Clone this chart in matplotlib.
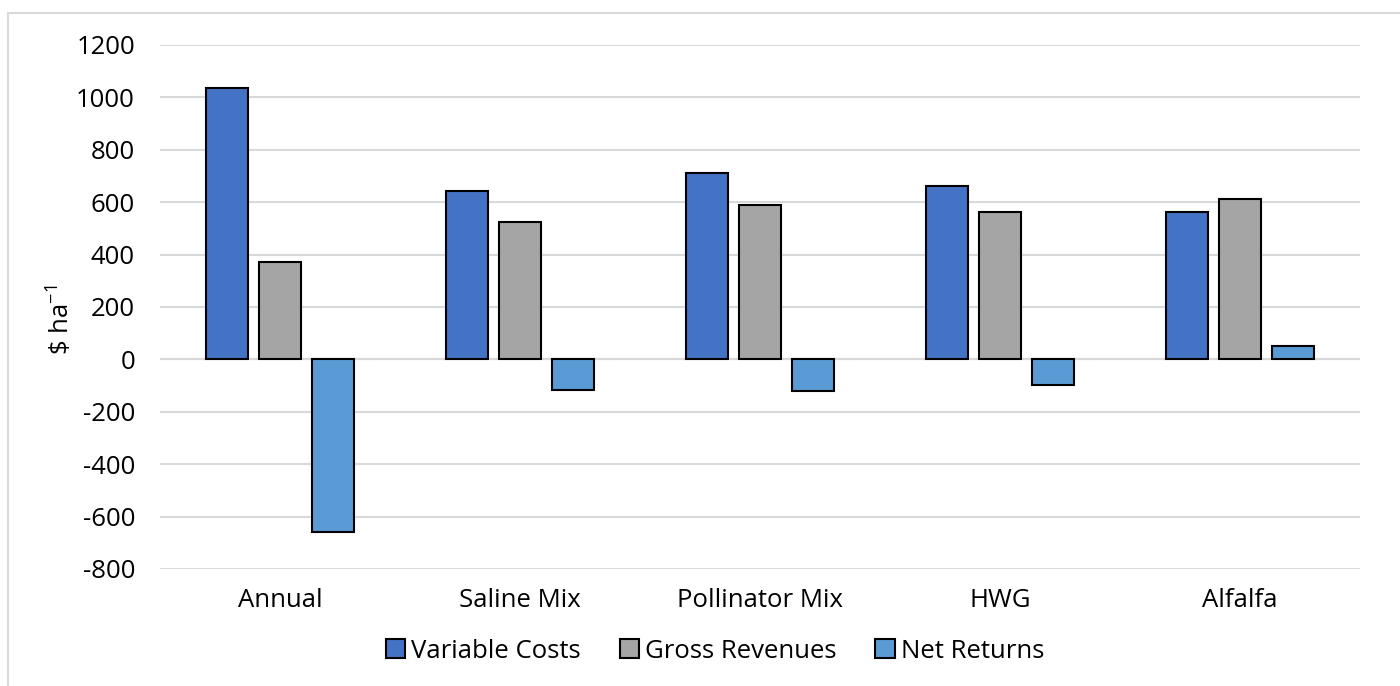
import numpy as np
import matplotlib.pyplot as plt
from matplotlib.patches import Rectangle

categories = ["Annual", "Saline Mix", "Pollinator Mix", "HWG", "Alfalfa"]
series_names = ["Variable Costs", "Gross Revenues", "Net Returns"]
variable_costs = [1034, 642, 713, 663, 563]
gross_revenues = [373, 526, 588, 563, 614]
net_returns = [-660, -115, -122, -99, 53]
yticks = [-800, -600, -400, -200, 0, 200, 400, 600, 800, 1000, 1200]

colors = ["#4472C4", "#A5A5A5", "#5B9BD5"]
plt.rcParams['font.family'] = ['Open Sans', 'DejaVu Sans']
plt.rcParams['mathtext.fontset'] = 'custom'
plt.rcParams['mathtext.rm'] = 'Open Sans'
plt.rcParams['mathtext.default'] = 'regular'

fig = plt.figure(figsize=(14, 6.86), dpi=100)
ax = fig.add_axes([160 / 1400, 1 - 569 / 686, 1200 / 1400, 524 / 686])

# light frame around the chart area
fig.patches.append(Rectangle((8 / 1400, -0.1), 1.2, 1 - 13 / 686 + 0.1,
                             transform=fig.transFigure, fill=False,
                             edgecolor="#D9D9D9", linewidth=1.5))

x = np.arange(len(categories))
width = 0.177
step = 0.221
for i, (vals, name) in enumerate(zip([variable_costs, gross_revenues, net_returns], series_names)):
    ax.bar(x + (i - 1) * step, vals, width, color=colors[i], edgecolor="black",
           linewidth=1.5, label=name, zorder=3)

ax.set_xlim(-0.5, len(categories) - 0.5)
ax.set_ylim(-800, 1200)
ax.set_yticks(yticks)
ax.set_yticklabels([str(v) for v in yticks])
ax.set_xticks(x)
ax.set_xticklabels(categories)
ax.tick_params(axis='both', length=0, labelsize=18.5, colors="black")
ax.tick_params(axis='x', pad=14)
ax.tick_params(axis='y', pad=18)
ax.grid(axis='y', color="#D9D9D9", linewidth=1.5, zorder=0)
ax.axhline(0, color="#D9D9D9", linewidth=1.5, zorder=1)
for s in ax.spines.values():
    s.set_visible(False)

ax.set_ylabel(r"\$ ha$^{-1}$", fontsize=18.5)
ax.yaxis.set_label_coords(-0.07, 0.475)

ax.legend(loc="center", bbox_to_anchor=(715 / 1400, 1 - 651 / 686),
          bbox_transform=fig.transFigure, ncol=3, frameon=False,
          fontsize=18.5, handlelength=0.75, handleheight=0.75,
          handletextpad=0.25, columnspacing=1.5)

plt.savefig("out.png", dpi=100)
